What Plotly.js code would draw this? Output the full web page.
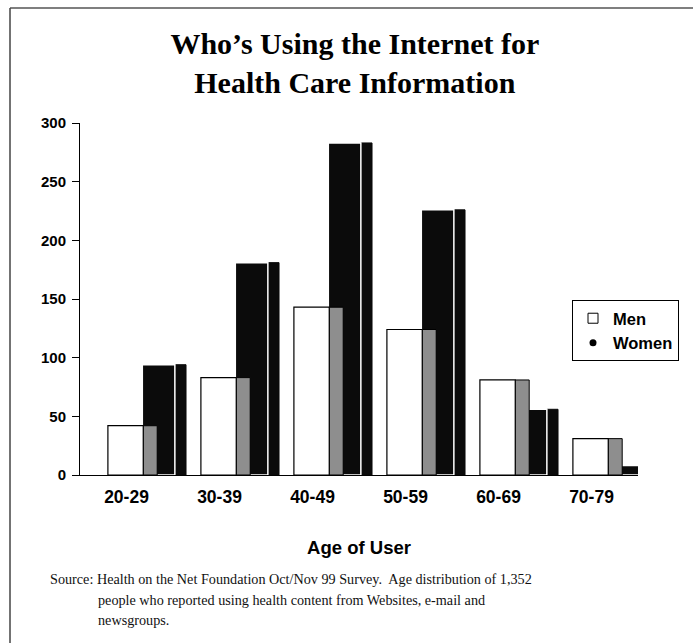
<!DOCTYPE html>
<html>
<head>
<meta charset="utf-8">
<script src="https://cdn.plot.ly/plotly-3.0.1.min.js"></script>
<style>html,body{margin:0;padding:0;background:#fff;}#chart{width:693px;height:643px;}</style>
</head>
<body>
<div id="chart"></div>
<script>
// Data
var ageGroups = ["20-29", "30-39", "40-49", "50-59", "60-69", "70-79"];
var menCounts = [42, 83, 143, 124, 81, 31];
var womenCounts = [94, 181, 283, 226, 56, 8];
var yTickValues = [0, 50, 100, 150, 200, 250, 300];

var titleText = "Who\u2019s Using the Internet for<br>Health Care Information";
var xTitleText = "Age of User";
var sourceLines = [
  "Source: Health on the Net Foundation Oct/Nov 99 Survey.  Age distribution of 1,352",
  "people who reported using health content from Websites, e-mail and",
  "newsgroups."
];

var W = 693, H = 643;
var margin = {l: 80, r: 55, t: 123, b: 168};
var pw = W - margin.l - margin.r, ph = H - margin.t - margin.b;
function px(x) { return (x - margin.l) / pw; }
function py(y) { return (H - margin.b - y) / ph; }

var traces = [
  // women side face
  {type: "bar", x: ageGroups, y: womenCounts, offset: 0.52, width: 0.12,
   marker: {color: "#0b0b0b", line: {color: "#0b0b0b", width: 1}},
   showlegend: false, hoverinfo: "skip"},
  // women front face
  {type: "bar", x: ageGroups, y: womenCounts, offset: 0.17, width: 0.35,
   marker: {color: "#0b0b0b", line: {color: "#ffffff", width: 1.5}},
   name: "Women", showlegend: false},
  // men side face
  {type: "bar", x: ageGroups, y: menCounts, offset: 0.18, width: 0.15,
   marker: {color: "#8e8e8e", line: {color: "#000", width: 1}},
   showlegend: false, hoverinfo: "skip"},
  // men front face
  {type: "bar", x: ageGroups, y: menCounts, offset: -0.2, width: 0.38,
   marker: {color: "#ffffff", line: {color: "#000", width: 1.2}},
   name: "Men", showlegend: false},
  // legend entries
  {type: "scatter", mode: "markers", x: [null], y: [null], name: "Men",
   marker: {symbol: "square-open", size: 10, color: "#000", line: {width: 1}}},
  {type: "scatter", mode: "markers", x: [null], y: [null], name: "Women",
   marker: {symbol: "circle", size: 7, color: "#000"}}
];

var serif = "Liberation Serif, Times New Roman, serif";
var sans = "Liberation Sans, Arial, sans-serif";

var annotations = [
  {xref: "paper", yref: "paper", x: px(48), y: py(579), xanchor: "left", yanchor: "middle",
   text: sourceLines[0], showarrow: false, font: {family: serif, size: 14.2, color: "#111"}},
  {xref: "paper", yref: "paper", x: px(96), y: py(600), xanchor: "left", yanchor: "middle",
   text: sourceLines[1], showarrow: false, font: {family: serif, size: 14.2, color: "#111"}},
  {xref: "paper", yref: "paper", x: px(96), y: py(620), xanchor: "left", yanchor: "middle",
   text: sourceLines[2], showarrow: false, font: {family: serif, size: 14.2, color: "#111"}}
];

var shapes = [
  // page frame: top and left rules
  {type: "line", xref: "paper", yref: "paper", x0: px(10), x1: px(693), y0: py(8), y1: py(8),
   line: {color: "#555", width: 1.5}},
  {type: "line", xref: "paper", yref: "paper", x0: px(10), x1: px(10), y0: py(8), y1: py(643),
   line: {color: "#444", width: 1.5}}
];

var layout = {
  width: W, height: H,
  margin: margin,
  paper_bgcolor: "#fff", plot_bgcolor: "#fff",
  barmode: "overlay",
  title: {text: titleText, x: 0.512, xanchor: "center", y: 1 - 54 / H, yanchor: "top",
          font: {family: serif, size: 30, color: "#000", weight: "bold"}},
  xaxis: {type: "category", range: [-0.5, 5.5], showgrid: false, zeroline: false,
          showline: true, linecolor: "#000", linewidth: 1, ticks: "", ticklabelstandoff: 6,
          tickfont: {family: sans, size: 17.5, color: "#000", weight: "bold"},
          title: {text: xTitleText, standoff: 35,
                  font: {family: sans, size: 18.5, color: "#000", weight: "bold"}}},
  yaxis: {range: [0, 300], tickvals: yTickValues, showgrid: false, zeroline: false,
          showline: true, linecolor: "#000", linewidth: 1, ticks: "outside", ticklen: 7, tickcolor: "#000",
          ticklabelstandoff: 3,
          tickfont: {family: sans, size: 15, color: "#000", weight: "bold"}},
  legend: {x: px(572), y: py(300), xanchor: "left", yanchor: "top", bgcolor: "#fff",
           bordercolor: "#000", borderwidth: 1, itemwidth: 30, tracegroupgap: 0,
           font: {family: sans, size: 16.5, color: "#000", weight: "bold"}},
  annotations: annotations,
  shapes: shapes,
  showlegend: true
};

Plotly.newPlot("chart", traces, layout, {displayModeBar: false, staticPlot: true});
</script>
</body>
</html>
